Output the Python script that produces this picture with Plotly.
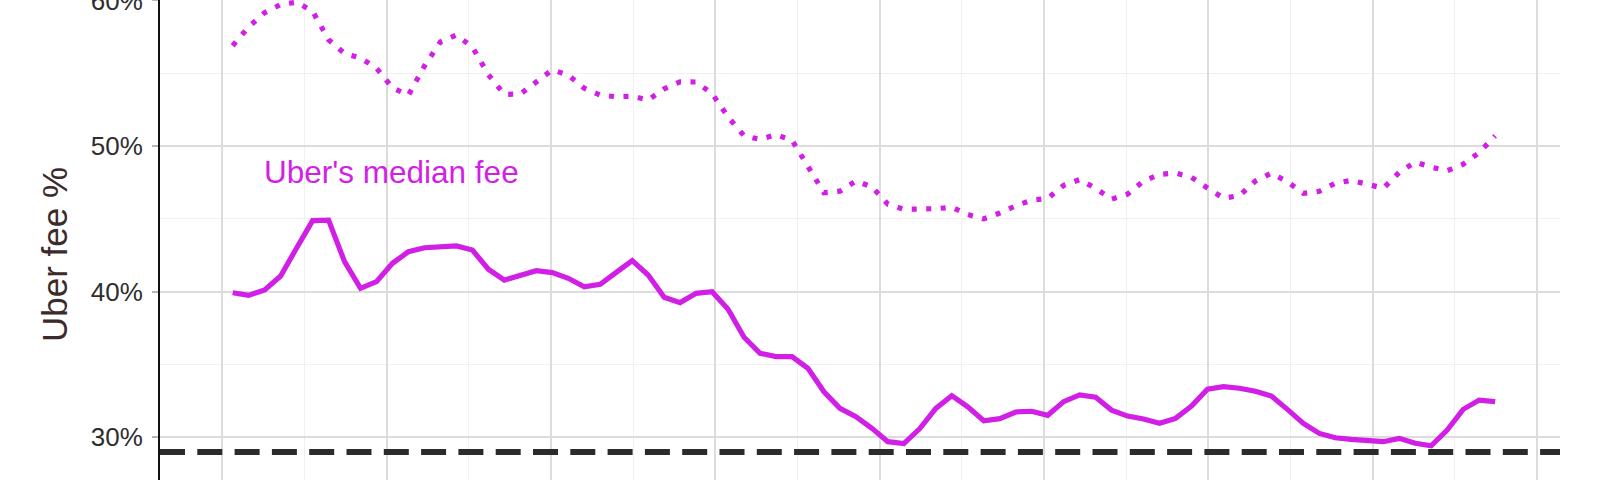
import plotly.graph_objects as go

# period index (x positions of the observations)
periods = list(range(80))

# Uber's median fee (%), solid line
median_fee = [
    39.93, 39.75, 40.12, 41.08, 43.00, 44.88, 44.92, 42.06, 40.23, 40.69,
    41.95, 42.75, 43.02, 43.09, 43.14, 42.86, 41.54, 40.80, 41.15, 41.44,
    41.31, 40.92, 40.34, 40.51, 41.33, 42.13, 41.15, 39.62, 39.25, 39.89,
    40.00, 38.79, 36.87, 35.77, 35.54, 35.54, 34.74, 33.13, 31.99, 31.42,
    30.62, 29.70, 29.57, 30.60, 31.99, 32.86, 32.10, 31.14, 31.28, 31.74,
    31.79, 31.51, 32.45, 32.91, 32.75, 31.87, 31.46, 31.26, 30.96, 31.30,
    32.15, 33.30, 33.48, 33.37, 33.17, 32.84, 31.92, 30.96, 30.27, 29.97,
    29.86, 29.77, 29.70, 29.93, 29.59, 29.42, 30.50, 31.92, 32.56, 32.45,
]

# upper (dotted) fee series (%)
upper_fee = [
    56.89, 58.18, 59.16, 59.72, 59.88, 59.26, 57.30, 56.36, 56.05, 55.35,
    54.00, 53.49, 55.50, 57.16, 57.62, 56.80, 54.90, 53.55, 53.57, 54.44,
    55.23, 54.88, 53.97, 53.50, 53.39, 53.42, 53.16, 53.93, 54.41, 54.40,
    53.60, 52.00, 50.70, 50.46, 50.78, 50.40, 48.60, 46.80, 46.90, 47.60,
    47.20, 46.00, 45.66, 45.65, 45.70, 45.80, 45.30, 45.00, 45.40, 45.90,
    46.29, 46.40, 47.30, 47.70, 47.10, 46.35, 46.70, 47.60, 48.05, 48.15,
    47.85, 47.12, 46.42, 46.60, 47.60, 48.14, 47.55, 46.75, 46.90, 47.45,
    47.64, 47.38, 47.10, 48.20, 48.90, 48.55, 48.31, 48.75, 49.55, 50.70,
]

reference_fee = 29.0
y_ticks = [30, 40, 50, 60]
y_tick_labels = ["30%", "40%", "50%", "60%"]
label_text = "Uber's median fee"
y_title = "Uber fee %"

MAG = "#d21fe6"
FONT = "Liberation Sans, Arial, Helvetica, sans-serif"

fig = go.Figure()
fig.add_trace(go.Scatter(
    x=periods, y=upper_fee, mode="lines",
    line=dict(color=MAG, width=5.2, dash="5px,9.5px"),
    showlegend=False, hoverinfo="skip",
))
fig.add_trace(go.Scatter(
    x=periods, y=median_fee, mode="lines",
    line=dict(color=MAG, width=5.2),
    showlegend=False, hoverinfo="skip",
))

fig.add_shape(
    type="line", xref="paper", x0=0, x1=1, yref="y", y0=reference_fee, y1=reference_fee,
    line=dict(color="#2b2b2b", width=6, dash="25px,12.3px"), layer="above",
)

fig.add_annotation(
    x=1.85, y=48.2, xref="x", yref="y", text=label_text, showarrow=False,
    xanchor="left", yanchor="middle",
    font=dict(family=FONT, size=31.5, color=MAG),
)

# y-axis title, placed as in the reference (centred on the taller panel)
fig.add_annotation(
    x=0, xref="paper", xshift=-106, y=1 - 255 / 480, yref="paper",
    text=y_title, textangle=-90, showarrow=False,
    xanchor="center", yanchor="middle",
    font=dict(family=FONT, size=35, color="#3b2b2b"),
)

major_dt = 10.282
tick0 = -0.645

fig.update_layout(
    width=1600, height=480,
    margin=dict(l=160, r=40, t=0, b=0),
    paper_bgcolor="white", plot_bgcolor="white",
    font=dict(family=FONT, color="#333333"),
    xaxis=dict(
        range=[-4.549, 83.06], showticklabels=False, ticks="",
        showline=False, zeroline=False, automargin=False,
        tick0=tick0, dtick=major_dt,
        showgrid=True, gridcolor="#dcdcdc", gridwidth=1.6,
        minor=dict(tick0=tick0, dtick=major_dt / 2, showgrid=True,
                   gridcolor="#f0f0f0", gridwidth=1.1),
    ),
    yaxis=dict(
        range=[27.07, 60.03], automargin=False,
        tickvals=y_ticks, ticktext=y_tick_labels,
        tickfont=dict(family=FONT, size=26, color="#2e2e2e"),
        ticks="outside", ticklen=6, tickwidth=2, tickcolor="#b5b5b5",
        ticklabelstandoff=4, ticklabeloverflow="allow",
        showline=True, linecolor="#111111", linewidth=2,
        zeroline=False,
        showgrid=True, gridcolor="#dcdcdc", gridwidth=1.6,
        minor=dict(dtick=5, tick0=0, showgrid=True, gridcolor="#f0f0f0", gridwidth=1.1),
    ),
)

fig.write_html(
    "out.html",
    config={"displayModeBar": False},
    post_script="document.body.style.margin='0';document.body.style.overflow='hidden';",
)
